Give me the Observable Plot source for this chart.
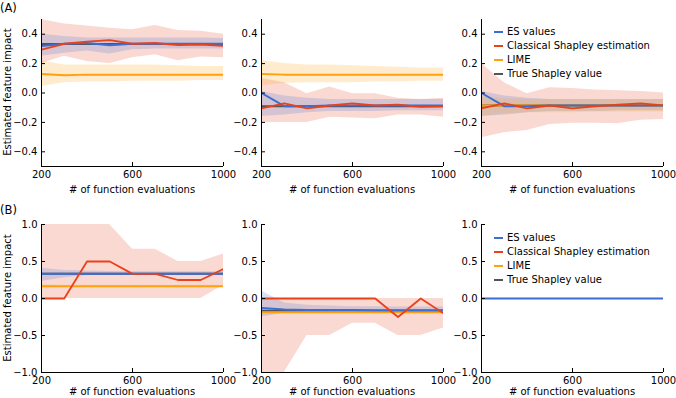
<!DOCTYPE html>
<html><head><meta charset="utf-8">
<script src="https://cdn.jsdelivr.net/npm/d3@7"></script>
<script src="https://cdn.jsdelivr.net/npm/@observablehq/plot@0.6"></script>
<style>
body{margin:0;background:#fff;}
#c{position:relative;width:676px;height:398px;font-family:"DejaVu Sans",sans-serif;overflow:hidden;background:#fff}
.t{position:absolute;white-space:nowrap;font-size:10px;color:#000;line-height:1}
.p{position:absolute}
</style></head>
<body><div id="c"></div>
<script>
// ---- data ----
const evals = [200, 300, 400, 500, 600, 700, 800, 900, 1000];
const xTicks = [200, 600, 1000];
const yTicksA = [-0.4, -0.2, 0, 0.2, 0.4];
const yTicksB = [-1, -0.5, 0, 0.5, 1];
const seriesNames = ["ES values", "Classical Shapley estimation", "LIME", "True Shapley value"];
const panelLabels = ["(A)", "(B)"];
const xLabel = "# of function evaluations";
const yLabel = "Estimated feature impact";

// Panel A1
const a1_es    = [0.32, 0.335, 0.34, 0.325, 0.335, 0.335, 0.335, 0.335, 0.335];
const a1_es_lo = [0.25, 0.27, 0.285, 0.265, 0.295, 0.30, 0.30, 0.30, 0.30];
const a1_es_hi = [0.40, 0.385, 0.375, 0.375, 0.375, 0.375, 0.375, 0.375, 0.37];
const a1_cs    = [0.295, 0.335, 0.35, 0.36, 0.335, 0.34, 0.325, 0.33, 0.32];
const a1_cs_lo = [0.20, 0.25, 0.215, 0.20, 0.24, 0.26, 0.22, 0.245, 0.24];
const a1_cs_hi = [0.50, 0.47, 0.455, 0.44, 0.43, 0.46, 0.425, 0.42, 0.40];
const a1_lime    = [0.13, 0.12, 0.125, 0.125, 0.125, 0.125, 0.125, 0.125, 0.125];
const a1_lime_lo = [0.045, 0.07, 0.075, 0.075, 0.08, 0.08, 0.08, 0.085, 0.085];
const a1_lime_hi = [0.22, 0.19, 0.19, 0.19, 0.19, 0.19, 0.185, 0.18, 0.18];
const a1_true = 0.333;

// Panel A2
const a2_es    = [0.0, -0.09, -0.09, -0.085, -0.085, -0.085, -0.085, -0.085, -0.085];
const a2_es_lo = [-0.16, -0.15, -0.135, -0.125, -0.125, -0.125, -0.12, -0.12, -0.12];
const a2_es_hi = [0.01, -0.02, -0.035, -0.045, -0.045, -0.045, -0.045, -0.045, -0.045];
const a2_cs    = [-0.105, -0.07, -0.105, -0.085, -0.07, -0.085, -0.08, -0.095, -0.09];
const a2_cs_lo = [-0.2, -0.2, -0.2, -0.165, -0.17, -0.175, -0.15, -0.15, -0.165];
const a2_cs_hi = [0.1, 0.07, -0.005, 0.04, -0.005, -0.005, -0.035, -0.045, -0.035];
const a2_lime    = [0.13, 0.125, 0.125, 0.125, 0.125, 0.125, 0.125, 0.125, 0.125];
const a2_lime_lo = [0.05, 0.065, 0.07, 0.07, 0.07, 0.075, 0.075, 0.08, 0.08];
const a2_lime_hi = [0.22, 0.20, 0.19, 0.19, 0.185, 0.18, 0.175, 0.17, 0.17];
const a2_true = -0.09;

// Panel A3
const a3_es    = [0.0, -0.09, -0.09, -0.085, -0.085, -0.085, -0.085, -0.085, -0.085];
const a3_es_lo = [-0.16, -0.15, -0.135, -0.125, -0.125, -0.125, -0.12, -0.12, -0.12];
const a3_es_hi = [0.01, -0.02, -0.035, -0.045, -0.045, -0.045, -0.045, -0.045, -0.045];
const a3_cs    = [-0.105, -0.07, -0.105, -0.085, -0.105, -0.09, -0.08, -0.07, -0.085];
const a3_cs_lo = [-0.305, -0.27, -0.255, -0.215, -0.205, -0.205, -0.21, -0.185, -0.18];
const a3_cs_hi = [0.2, 0.07, -0.005, 0.035, 0.03, 0.02, 0.015, 0.01, 0.0];
const a3_lime    = [-0.085, -0.085, -0.085, -0.085, -0.085, -0.085, -0.085, -0.085, -0.085];
const a3_lime_lo = [-0.16, -0.14, -0.135, -0.135, -0.135, -0.13, -0.13, -0.13, -0.13];
const a3_lime_hi = [-0.025, -0.04, -0.045, -0.045, -0.045, -0.045, -0.045, -0.045, -0.045];
const a3_true = -0.085;

// Panel B1
const b1_es    = [0.335, 0.335, 0.335, 0.335, 0.335, 0.335, 0.335, 0.335, 0.335];
const b1_es_lo = [0.23, 0.28, 0.31, 0.31, 0.315, 0.315, 0.315, 0.315, 0.315];
const b1_es_hi = [0.41, 0.38, 0.37, 0.365, 0.36, 0.36, 0.36, 0.36, 0.36];
const b1_cs    = [0, 0, 0.5, 0.5, 0.333, 0.333, 0.25, 0.25, 0.4];
const b1_cs_lo = [0, 0, 0, 0, 0, 0, 0, 0, 0.18];
const b1_cs_hi = [1, 1, 1, 1, 0.667, 0.667, 0.5, 0.5, 0.6];
const b1_lime    = [0.167, 0.167, 0.167, 0.167, 0.167, 0.167, 0.167, 0.167, 0.167];
const b1_lime_lo = [0.15, 0.155, 0.155, 0.155, 0.155, 0.155, 0.155, 0.155, 0.155];
const b1_lime_hi = [0.185, 0.18, 0.18, 0.18, 0.18, 0.18, 0.18, 0.18, 0.18];
const b1_true = 0.333;

// Panel B2
const b2_es    = [-0.13, -0.15, -0.155, -0.155, -0.155, -0.16, -0.16, -0.16, -0.16];
const b2_es_lo = [-0.25, -0.2, -0.19, -0.19, -0.19, -0.19, -0.19, -0.19, -0.19];
const b2_es_hi = [0.1, -0.06, -0.09, -0.1, -0.11, -0.11, -0.115, -0.115, -0.115];
const b2_cs    = [0, 0, 0, 0, 0, 0, -0.25, 0, -0.2];
const b2_cs_lo = [-1.5, -1.0, -0.5, -0.5, -0.333, -0.333, -0.5, -0.5, -0.4];
const b2_cs_hi = [0, 0, 0, 0, 0, 0, 0, 0, 0];
const b2_lime    = [-0.185, -0.185, -0.185, -0.185, -0.185, -0.185, -0.185, -0.185, -0.185];
const b2_lime_lo = [-0.2, -0.2, -0.2, -0.2, -0.2, -0.2, -0.2, -0.2, -0.2];
const b2_lime_hi = [-0.17, -0.17, -0.17, -0.17, -0.17, -0.17, -0.17, -0.17, -0.17];
const b2_true = -0.167;

// Panel B3
const b3_es = [0, 0, 0, 0, 0, 0, 0, 0, 0];

// ---- styling ----
const C_ES = "#3b6dd3", C_CS = "#e8421c", C_LIME = "#ffa011", C_TRUE = "#555555";
const container = document.getElementById("c");

function addText(txt, x, y, opts = {}) {
  const d = document.createElement("div");
  d.className = "t";
  d.textContent = txt;
  d.style.left = x + "px";
  d.style.top = y + "px";
  d.style.fontSize = (opts.size || 10) + "px";
  d.style.transform = opts.transform || "translate(-50%,-50%)";
  container.appendChild(d);
  return d;
}

const PW = 182;
function panel(cfg) {
  const {left, top, ph, ydom, yticks, labelOffset} = cfg;
  const rows = evals.map((x, i) => ({
    x,
    es: cfg.es ? cfg.es[i] : null, esLo: cfg.esLo ? cfg.esLo[i] : null, esHi: cfg.esHi ? cfg.esHi[i] : null,
    cs: cfg.cs ? cfg.cs[i] : null, csLo: cfg.csLo ? cfg.csLo[i] : null, csHi: cfg.csHi ? cfg.csHi[i] : null,
    lime: cfg.lime ? cfg.lime[i] : null, limeLo: cfg.limeLo ? cfg.limeLo[i] : null, limeHi: cfg.limeHi ? cfg.limeHi[i] : null,
    tr: cfg.tr != null ? cfg.tr : null
  }));
  const marks = [];
  if (cfg.cs) marks.push(Plot.areaY(rows, {x: "x", y1: "csLo", y2: "csHi", fill: C_CS, fillOpacity: 0.2, clip: true}));
  if (cfg.es && cfg.esLo) marks.push(Plot.areaY(rows, {x: "x", y1: "esLo", y2: "esHi", fill: C_ES, fillOpacity: 0.2, clip: true}));
  if (cfg.lime) marks.push(Plot.areaY(rows, {x: "x", y1: "limeLo", y2: "limeHi", fill: C_LIME, fillOpacity: 0.2, clip: true}));
  if (cfg.tr != null) marks.push(Plot.lineY(rows, {x: "x", y: "tr", stroke: C_TRUE, strokeWidth: 2, clip: true}));
  if (cfg.lime) marks.push(Plot.lineY(rows, {x: "x", y: "lime", stroke: C_LIME, strokeWidth: 2, clip: true}));
  if (cfg.es) marks.push(Plot.lineY(rows, {x: "x", y: "es", stroke: C_ES, strokeWidth: 2, clip: true}));
  if (cfg.cs) marks.push(Plot.lineY(rows, {x: "x", y: "cs", stroke: C_CS, strokeWidth: 1.8, clip: true}));
  marks.push(
    Plot.ruleX([evals[0]], {stroke: "#000", strokeWidth: 1}),
    Plot.ruleY([ydom[0]], {stroke: "#000", strokeWidth: 1}),
    Plot.tickY(yticks, {y: d => d, insetRight: PW - 4, stroke: "#000"}),
    Plot.tickX(xTicks, {x: d => d, insetTop: ph - 4, stroke: "#000"}),
    Plot.axisX({ticks: xTicks, tickSize: 0, tickPadding: 4, label: null, tickFormat: d3.format("d")}),
    Plot.axisY({ticks: yticks, tickSize: 0, tickPadding: 4, label: null, tickFormat: d3.format(".1f")})
  );
  const svg = Plot.plot({
    width: 41 + PW + 12, height: 19 + ph + 16,
    marginLeft: 41, marginRight: 12, marginTop: 19, marginBottom: 16,
    x: {domain: [200, 1000]},
    y: {domain: ydom},
    style: {background: "transparent", overflow: "visible", fontFamily: "DejaVu Sans", fontSize: "10px", color: "#000"},
    marks
  });
  const wrap = document.createElement("div");
  wrap.className = "p";
  wrap.style.left = left + "px";
  wrap.style.top = top + "px";
  wrap.appendChild(svg);
  container.appendChild(wrap);
  addText(xLabel, left + 41 + PW / 2, top + 19 + ph + labelOffset);
}

function legend(x, ys) {
  const cols = [C_ES, C_CS, C_LIME, C_TRUE];
  seriesNames.forEach((n, i) => {
    const l = document.createElement("div");
    l.style.position = "absolute";
    l.style.left = x + "px";
    l.style.top = (ys[i] - 1) + "px";
    l.style.width = "9px";
    l.style.height = "2px";
    l.style.background = cols[i];
    container.appendChild(l);
    addText(n, x + 13, ys[i], {transform: "translate(0,-50%)"});
  });
}

const rowA = {top: 0, ph: 147, ydom: [-0.5, 0.5], yticks: yTicksA, labelOffset: 24};
const rowB = {top: 205, ph: 148, ydom: [-1, 1], yticks: yTicksB, labelOffset: 20};

panel({...rowA, left: 0, es: a1_es, esLo: a1_es_lo, esHi: a1_es_hi, cs: a1_cs, csLo: a1_cs_lo, csHi: a1_cs_hi, lime: a1_lime, limeLo: a1_lime_lo, limeHi: a1_lime_hi, tr: a1_true});
panel({...rowA, left: 220, es: a2_es, esLo: a2_es_lo, esHi: a2_es_hi, cs: a2_cs, csLo: a2_cs_lo, csHi: a2_cs_hi, lime: a2_lime, limeLo: a2_lime_lo, limeHi: a2_lime_hi, tr: a2_true});
panel({...rowA, left: 440, es: a3_es, esLo: a3_es_lo, esHi: a3_es_hi, cs: a3_cs, csLo: a3_cs_lo, csHi: a3_cs_hi, lime: a3_lime, limeLo: a3_lime_lo, limeHi: a3_lime_hi, tr: a3_true});
panel({...rowB, left: 0, es: b1_es, esLo: b1_es_lo, esHi: b1_es_hi, cs: b1_cs, csLo: b1_cs_lo, csHi: b1_cs_hi, lime: b1_lime, limeLo: b1_lime_lo, limeHi: b1_lime_hi, tr: b1_true});
panel({...rowB, left: 220, es: b2_es, esLo: b2_es_lo, esHi: b2_es_hi, cs: b2_cs, csLo: b2_cs_lo, csHi: b2_cs_hi, lime: b2_lime, limeLo: b2_lime_lo, limeHi: b2_lime_hi, tr: b2_true});
panel({...rowB, left: 440, es: b3_es});

legend(494, [32.3, 45.7, 60, 73.7]);
legend(494, [237.7, 251.7, 266, 280]);

addText(panelLabels[0], 0, 8.5, {size: 11.5, transform: "translate(0,-50%)"});
addText(panelLabels[1], 0, 210.5, {size: 11.5, transform: "translate(0,-50%)"});
addText(yLabel, 8, 92, {transform: "translate(-50%,-50%) rotate(-90deg)"});
addText(yLabel, 8, 298, {transform: "translate(-50%,-50%) rotate(-90deg)"});
</script>
</body></html>
